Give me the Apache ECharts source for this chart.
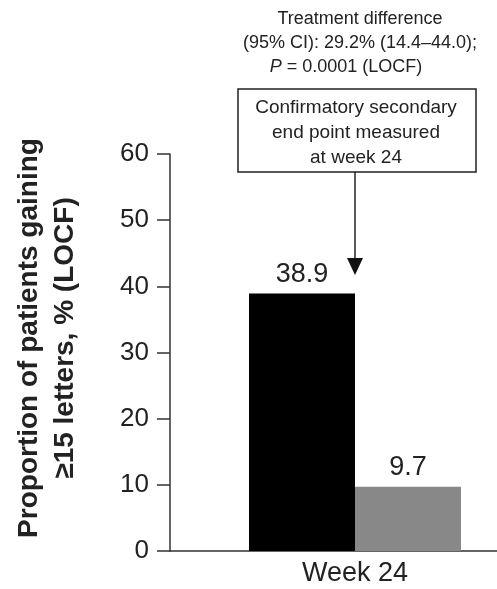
<!DOCTYPE html>
<html>
<head>
<meta charset="utf-8">
<script src="https://cdn.jsdelivr.net/npm/echarts@6/dist/echarts.min.js"></script>
<style>
  html, body { margin: 0; padding: 0; background: #fff; }
  #chart { width: 497px; height: 589px; }
</style>
</head>
<body>
<div id="chart"></div>
<script>
// Proportion of patients gaining >=15 letters at week 24
const categories = ['Week 24'];
const treatmentValues = [38.9];
const controlValues = [9.7];
const yTicks = { min: 0, max: 60, interval: 10 };

const FONT = '"Liberation Sans", Arial, Helvetica, sans-serif';
const INK = '#222';
const chart = echarts.init(document.getElementById('chart'));

chart.setOption({
  backgroundColor: '#ffffff',
  animation: false,
  grid: { left: 170, right: -43, top: 154, bottom: 38, outerBoundsMode: 'none' },
  xAxis: {
    type: 'category',
    data: categories,
    axisLine: { lineStyle: { color: '#333', width: 1.5 } },
    axisTick: { show: false },
    axisLabel: { color: INK, fontSize: 27, fontFamily: FONT, margin: 9 }
  },
  yAxis: {
    type: 'value',
    min: yTicks.min,
    max: yTicks.max,
    interval: yTicks.interval,
    splitLine: { show: false },
    axisLine: { show: true, lineStyle: { color: '#333', width: 1.5 } },
    axisTick: { show: true, inside: false, length: 13, lineStyle: { color: '#333', width: 1.5 } },
    axisLabel: { color: INK, fontSize: 26, fontFamily: FONT, margin: 21 }
  },
  series: [
    {
      name: 'Treatment',
      type: 'bar',
      data: treatmentValues,
      barWidth: 106,
      barGap: '0%',
      itemStyle: { color: '#000' },
      label: { show: true, position: 'top', distance: 6, color: INK, fontSize: 27, fontFamily: FONT }
    },
    {
      name: 'Control',
      type: 'bar',
      data: controlValues,
      barWidth: 106,
      barGap: '0%',
      itemStyle: { color: '#888' },
      label: { show: true, position: 'top', distance: 6, color: INK, fontSize: 27, fontFamily: FONT }
    }
  ],
  graphic: [
    // y-axis title
    {
      type: 'text',
      x: 47, y: 338, rotation: Math.PI / 2,
      style: {
        text: 'Proportion of patients gaining\n≥15 letters, % (LOCF)',
        align: 'center', verticalAlign: 'middle',
        fill: INK, fontSize: 28, fontWeight: 'bold', fontFamily: FONT, lineHeight: 36
      }
    },
    // statistics note above the box
    {
      type: 'text',
      style: {
        x: 360, y: 7,
        text: 'Treatment difference\n(95% CI): 29.2% (14.4–44.0);',
        align: 'center', fill: INK, fontSize: 18, fontFamily: FONT, lineHeight: 24
      }
    },
    {
      type: 'text',
      style: {
        x: 346, y: 55,
        text: '{i|P} = 0.0001 (LOCF)',
        align: 'center', fill: INK, fontSize: 18, fontFamily: FONT, lineHeight: 24,
        rich: { i: { fontStyle: 'italic', fontSize: 18, fontFamily: FONT, fill: INK, lineHeight: 24 } }
      }
    },
    // callout box
    {
      type: 'rect',
      shape: { x: 238, y: 89, width: 238, height: 83 },
      style: { fill: '#fff', stroke: '#222', lineWidth: 1.5 }
    },
    {
      type: 'text',
      style: {
        x: 356, y: 95,
        text: 'Confirmatory secondary\nend point measured\nat week 24',
        align: 'center', fill: INK, fontSize: 19, fontFamily: FONT, lineHeight: 25
      }
    },
    // arrow to the week 24 bars
    {
      type: 'line',
      shape: { x1: 355, y1: 172, x2: 355, y2: 262 },
      style: { stroke: '#222', lineWidth: 1.5 }
    },
    {
      type: 'polygon',
      shape: { points: [[347, 258], [363, 258], [355, 275]] },
      style: { fill: '#111' }
    }
  ]
});
</script>
</body>
</html>
